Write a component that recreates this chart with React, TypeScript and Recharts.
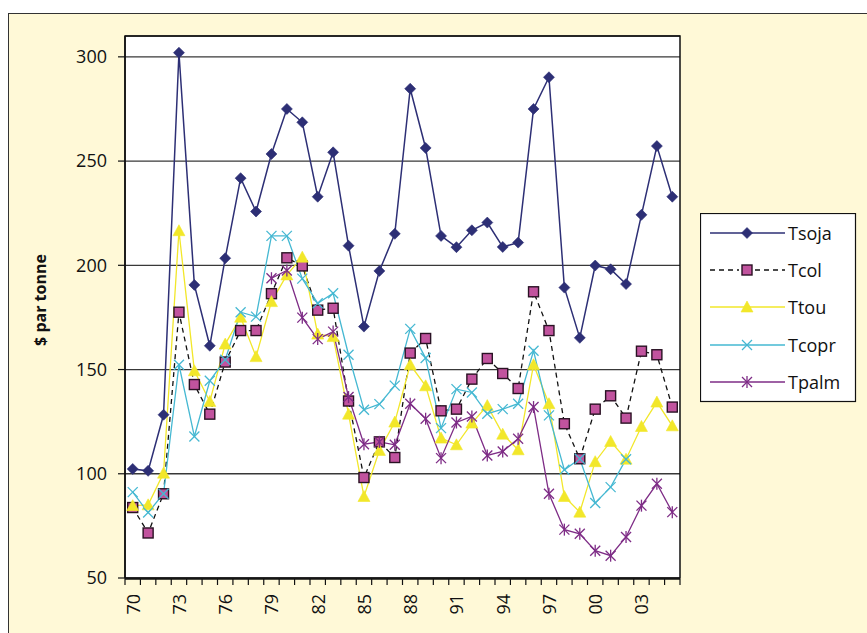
import React from 'react';
import { LineChart, Line, XAxis, YAxis, CartesianGrid, Legend, ReferenceArea } from 'recharts';

const years = ['70', '71', '72', '73', '74', '75', '76', '77', '78', '79', '80', '81', '82', '83', '84', '85', '86', '87', '88', '89', '90', '91', '92', '93', '94', '95', '96', '97', '98', '99', '00', '01', '02', '03', '04', '05'];

const tsoja = [102.3, 101.4, 128.3, 302.0, 190.6, 161.4, 203.4, 241.8, 225.8, 253.4, 275.0, 268.6, 232.9, 254.2, 209.4, 170.6, 197.3, 215.1, 284.7, 256.3, 214.1, 208.7, 216.8, 220.5, 208.8, 210.9, 275.0, 290.2, 189.3, 165.2, 199.9, 198.1, 191.0, 224.2, 257.2, 232.9];
const tcol = [83.8, 71.6, 90.4, 177.5, 142.8, 128.6, 153.6, 168.7, 168.7, 186.4, 203.6, 199.7, 178.5, 179.4, 134.9, 98.2, 115.3, 107.8, 157.9, 164.9, 130.2, 131.0, 145.4, 155.3, 148.1, 140.9, 187.3, 168.7, 124.0, 107.2, 131.0, 137.4, 126.7, 158.8, 157.1, 132.0];
const ttou = [84.7, 85.1, 100.3, 216.6, 149.4, 134.7, 162.2, 175.1, 156.2, 182.6, 195.4, 203.9, 167.0, 165.8, 128.6, 89.1, 111.2, 124.8, 152.3, 142.2, 117.1, 113.9, 124.3, 132.7, 119.0, 111.5, 152.3, 133.6, 89.1, 81.6, 105.8, 115.5, 107.0, 122.7, 134.4, 123.0];
const tcopr = [91.2, 81.4, 90.4, 152.3, 117.9, 144.6, 154.7, 177.5, 175.4, 214.1, 214.1, 193.6, 181.8, 186.6, 157.1, 130.7, 133.4, 142.3, 169.5, 155.5, 121.9, 140.6, 139.0, 128.8, 131.0, 133.6, 159.0, 128.0, 101.9, 107.2, 86.0, 93.6, 107.0, null, null, null];
const tpalm = [null, null, null, null, null, null, null, null, null, 193.8, 197.5, 174.9, 164.6, 168.2, 136.8, 114.2, 115.3, 113.9, 133.6, 126.4, 107.5, 124.6, 127.5, 108.8, 110.7, 116.8, 132.0, 90.4, 73.2, 71.2, 63.1, 60.7, 69.7, 84.7, 95.2, 81.6];

const seriesNames = ['Tsoja', 'Tcol', 'Ttou', 'Tcopr', 'Tpalm'];
const seriesColors = ['#2D2F75', '#111111', '#F2E72A', '#45B8D2', '#7E2C86'];
const seriesMarkers = ['diamond', 'square', 'triangle', 'x', 'star'];

const yTicks = [50, 100, 150, 200, 250, 300];
const yDomain = [50, 310];
const axisLabel = '$ par tonne';

const data = years.map((year, i) => ({
  idx: i,
  year,
  Tsoja: tsoja[i],
  Tcol: tcol[i],
  Ttou: ttou[i],
  Tcopr: tcopr[i],
  Tpalm: tpalm[i],
}));

const labelTicks = years.map((_, i) => i).filter((i) => i % 3 === 0);
const boundaryTicks = [...years.map((_, i) => i - 0.5), years.length - 0.5];

const FONT = '"Open Sans", "Noto Sans", sans-serif';
const SQUARE_FILL = '#C1539E';

function Marker({ kind, cx, cy, color }: { kind: string; cx: number; cy: number; color: string }) {
  switch (kind) {
    case 'diamond':
      return (
        <polygon
          points={`${cx},${cy - 5.5} ${cx + 5.5},${cy} ${cx},${cy + 5.5} ${cx - 5.5},${cy}`}
          fill={color}
          stroke={color}
          strokeWidth={0.6}
        />
      );
    case 'square':
      return <rect x={cx - 5} y={cy - 5} width={10} height={10} fill={SQUARE_FILL} stroke="#2a1224" strokeWidth={1.4} />;
    case 'triangle':
      return <polygon points={`${cx},${cy - 6} ${cx + 6},${cy + 5} ${cx - 6},${cy + 5}`} fill={color} stroke={color} strokeWidth={0.6} />;
    case 'x':
      return (
        <g stroke={color} strokeWidth={1.3}>
          <line x1={cx - 5} y1={cy - 5} x2={cx + 5} y2={cy + 5} />
          <line x1={cx - 5} y1={cy + 5} x2={cx + 5} y2={cy - 5} />
        </g>
      );
    case 'star':
      return (
        <g stroke={color} strokeWidth={1.3}>
          <line x1={cx - 5} y1={cy - 5} x2={cx + 5} y2={cy + 5} />
          <line x1={cx - 5} y1={cy + 5} x2={cx + 5} y2={cy - 5} />
          <line x1={cx} y1={cy - 6} x2={cx} y2={cy + 6} />
        </g>
      );
    default:
      return null;
  }
}

function makeDot(name: string, kind: string, color: string) {
  return (p: any) => {
    const key = `${name}-dot-${p.index}`;
    if (p.cx == null || p.cy == null || p.value == null || (Array.isArray(p.value) && p.value[1] == null)) {
      return <g key={key} />;
    }
    return (
      <g key={key}>
        <Marker kind={kind} cx={p.cx} cy={p.cy} color={color} />
      </g>
    );
  };
}

function LegendBox() {
  const rowY = [20, 57, 94, 132, 169];
  return (
    <svg width={157} height={190} style={{ display: 'block' }}>
      <rect x={0.5} y={0.5} width={155} height={188} fill="#fff" stroke="#111" strokeWidth={1.2} />
      {seriesNames.map((name, i) => (
        <g key={name}>
          <line
            x1={10}
            x2={85}
            y1={rowY[i]}
            y2={rowY[i]}
            stroke={seriesColors[i]}
            strokeWidth={1.3}
            strokeDasharray={name === 'Tcol' ? '5 4' : undefined}
          />
          {name === 'Tcol' ? <rect x={39} y={rowY[i] - 8} width={16} height={16} fill="#fff" /> : null}
          <Marker kind={seriesMarkers[i]} cx={47} cy={rowY[i]} color={seriesColors[i]} />
          <text x={88} y={rowY[i]} dominantBaseline="central" fontSize={18} fontFamily={FONT} fill="#111">
            {name}
          </text>
        </g>
      ))}
    </svg>
  );
}

function XLabelTick(p: any) {
  const { x, y, payload } = p;
  return (
    <text
      x={x}
      y={y}
      transform={`rotate(-90 ${x} ${y})`}
      textAnchor="end"
      dominantBaseline="central"
      fontSize={18}
      fontFamily={FONT}
      fill="#111"
    >
      {years[payload.value]}
    </text>
  );
}

function EmptyTick() {
  return <g />;
}

function YTitle(p: any) {
  const vb = p.viewBox || { x: 65, y: 36, width: 60, height: 542 };
  const cx = vb.x - 25;
  const cy = vb.y + vb.height / 2 - 7;
  return (
    <text
      x={cx}
      y={cy}
      transform={`rotate(-90 ${cx} ${cy})`}
      textAnchor="middle"
      dominantBaseline="central"
      fontSize={16}
      fontWeight={700}
      fontFamily={FONT}
      fill="#111"
    >
      {axisLabel}
    </text>
  );
}

export default function App() {
  return (
    <div style={{ position: 'absolute', left: 0, top: 0, width: 867, height: 633, background: '#fff', overflow: 'hidden' }}>
      <div
        style={{
          position: 'absolute',
          left: 8,
          top: 13,
          width: 867,
          height: 633,
          background: '#FFF9D7',
          borderLeft: '1.5px solid #333',
          borderTop: '1.5px solid #333',
        }}
      />
      <div style={{ position: 'absolute', left: 0, top: 0 }}>
        <LineChart width={867} height={633} data={data} margin={{ top: 36, right: 187, bottom: 53, left: 65 }}>
          <CartesianGrid xAxisId="main" vertical={false} stroke="#383838" strokeWidth={1.3} fill="#ffffff" fillOpacity={1} />
          <XAxis
            xAxisId="main"
            dataKey="idx"
            type="number"
            domain={[-0.5, years.length - 0.5]}
            ticks={boundaryTicks}
            interval={0}
            tick={EmptyTick}
            tickSize={6}
            height={1}
            axisLine={{ stroke: '#111', strokeWidth: 1.5 }}
            tickLine={{ stroke: '#111', strokeWidth: 1.2 }}
            allowDataOverflow
          />
          <XAxis
            xAxisId="labels"
            dataKey="idx"
            type="number"
            domain={[-0.5, years.length - 0.5]}
            ticks={labelTicks}
            interval={0}
            tick={XLabelTick}
            tickSize={0}
            tickMargin={16}
            height={1}
            axisLine={false}
            tickLine={false}
            allowDataOverflow
          />
          <YAxis
            type="number"
            domain={yDomain}
            ticks={yTicks}
            interval={0}
            width={60}
            tickSize={7}
            tickMargin={11}
            allowDataOverflow
            axisLine={{ stroke: '#111', strokeWidth: 1.5 }}
            tickLine={{ stroke: '#111', strokeWidth: 1.2 }}
            tick={{ fontSize: 18, fill: '#111', fontFamily: FONT }}
            label={<YTitle />}
          />
          <ReferenceArea
            xAxisId="main"
            x1={-0.5}
            x2={years.length - 0.5}
            y1={yDomain[0]}
            y2={yDomain[1]}
            fill="none"
            fillOpacity={0}
            stroke="#111"
            strokeWidth={1.5}
            ifOverflow="visible"
          />
          {seriesNames.map((name, i) => (
            <Line
              key={name}
              xAxisId="main"
              dataKey={name}
              type="linear"
              stroke={seriesColors[i]}
              strokeWidth={name === 'Tsoja' ? 1.5 : 1.3}
              strokeDasharray={name === 'Tcol' ? '5 4' : undefined}
              dot={makeDot(name, seriesMarkers[i], seriesColors[i])}
              activeDot={false}
              isAnimationActive={false}
              connectNulls={false}
            />
          ))}
          <Legend
            layout="vertical"
            align="center"
            verticalAlign="middle"
            wrapperStyle={{ left: 700, top: 213, width: 157, height: 190 }}
            content={() => <LegendBox />}
          />
        </LineChart>
      </div>
    </div>
  );
}
